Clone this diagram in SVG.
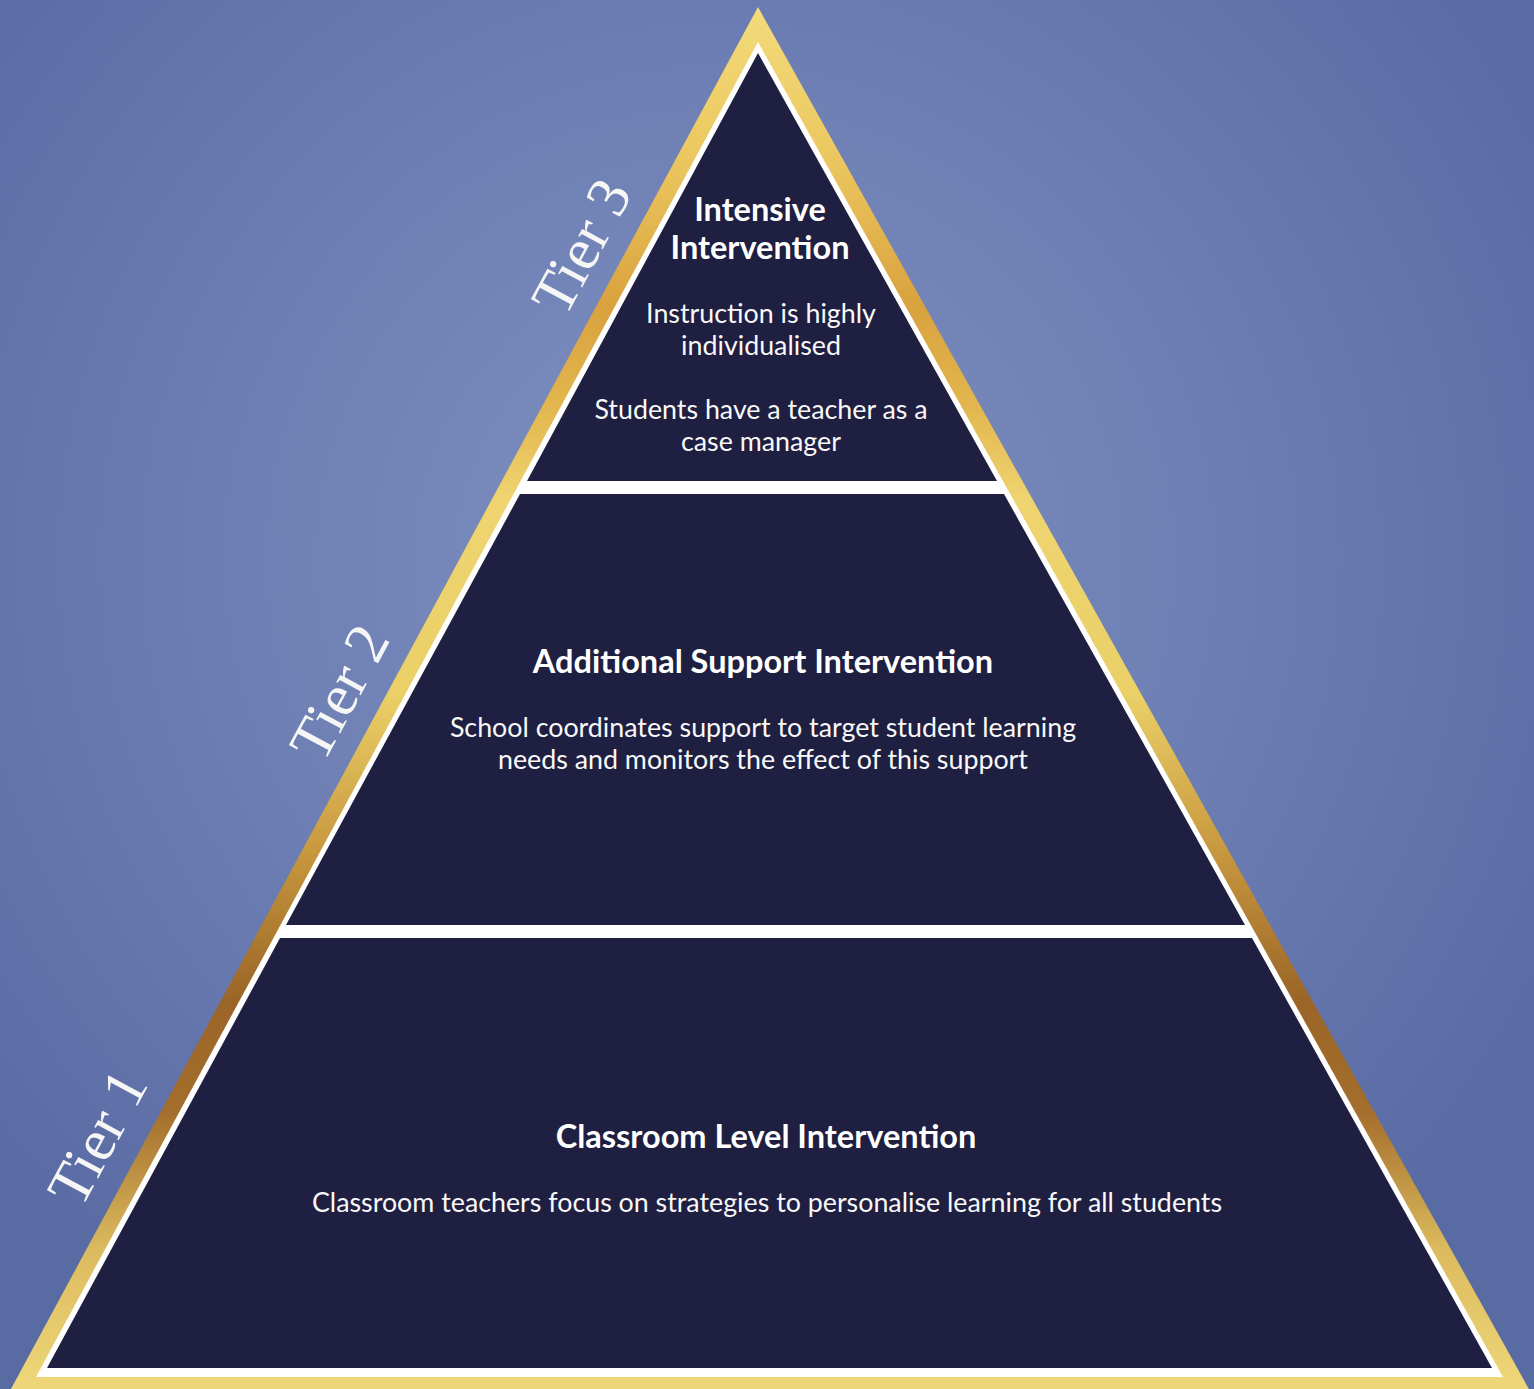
<svg xmlns="http://www.w3.org/2000/svg" width="1534" height="1389" viewBox="0 0 1534 1389">
  <defs>
    <radialGradient id="bg" gradientUnits="userSpaceOnUse" cx="720" cy="560" r="950">
      <stop offset="0" stop-color="#8193c2"/>
      <stop offset="0.55" stop-color="#6b7db2"/>
      <stop offset="1" stop-color="#596ba3"/>
    </radialGradient>
    <linearGradient id="gold" gradientUnits="userSpaceOnUse" x1="0" y1="0" x2="0" y2="1389">
      <stop offset="0" stop-color="#f3dc7c"/>
      <stop offset="0.11" stop-color="#ecc860"/>
      <stop offset="0.22" stop-color="#d9a23e"/>
      <stop offset="0.29" stop-color="#e2b54d"/>
      <stop offset="0.36" stop-color="#efd470"/>
      <stop offset="0.5" stop-color="#ead067"/>
      <stop offset="0.61" stop-color="#c9993f"/>
      <stop offset="0.72" stop-color="#9a6527"/>
      <stop offset="0.8" stop-color="#a46e2c"/>
      <stop offset="0.9" stop-color="#dcbb5e"/>
      <stop offset="1" stop-color="#eed77a"/>
    </linearGradient>
    <style>
      .navy { fill: #1f1f41; }
      .title { font-family: Lato, "Liberation Sans", sans-serif; font-weight: bold; font-size: 32.5px; fill: #ffffff; text-anchor: middle; }
      .body { font-family: Lato, "Liberation Sans", sans-serif; font-size: 26.8px; fill: #f8f8f8; text-anchor: middle; }
      .tier { font-family: "Liberation Serif", "DejaVu Serif", serif; font-size: 60px; fill: #f6f6f6; text-anchor: middle; }
    </style>
  </defs>

  <rect x="0" y="0" width="1534" height="1389" fill="url(#bg)"/>

  <!-- gold frame -->
  <polygon points="758,7 5,1400 1535,1400" fill="url(#gold)"/>
  <!-- white border -->
  <polygon points="758,42 36,1377 1503,1377" fill="#ffffff"/>

  <g id="tier3">
    <polygon class="navy" points="758,53 527,481 997,481"/>
    <text class="title" x="760" y="221">Intensive</text>
    <text class="title" x="760" y="259">Intervention</text>
    <text class="body" x="761" y="323">Instruction is highly</text>
    <text class="body" x="761" y="355">individualised</text>
    <text class="body" x="761" y="419">Students have a teacher as a</text>
    <text class="body" x="761" y="451">case manager</text>
  </g>

  <g id="tier2">
    <polygon class="navy" points="520,494 1004,494 1245,925 286,925"/>
    <text class="title" x="763" y="673">Additional Support Intervention</text>
    <text class="body" x="763" y="737">School coordinates support to target student learning</text>
    <text class="body" x="763" y="769">needs and monitors the effect of this support</text>
  </g>

  <g id="tier1">
    <polygon class="navy" points="280,938 1252,938 1492,1368 47,1368"/>
    <text class="title" x="766" y="1148">Classroom Level Intervention</text>
    <text class="body" x="767" y="1212">Classroom teachers focus on strategies to personalise learning for all students</text>
  </g>

  <g id="tier-labels">
    <text class="tier" transform="translate(599,256) rotate(-61.6)">Tier 3</text>
    <text class="tier" transform="translate(357,702) rotate(-61.6)">Tier 2</text>
    <text class="tier" transform="translate(115,1147) rotate(-61.6)">Tier 1</text>
  </g>

  <g id="connectors"></g>
</svg>
